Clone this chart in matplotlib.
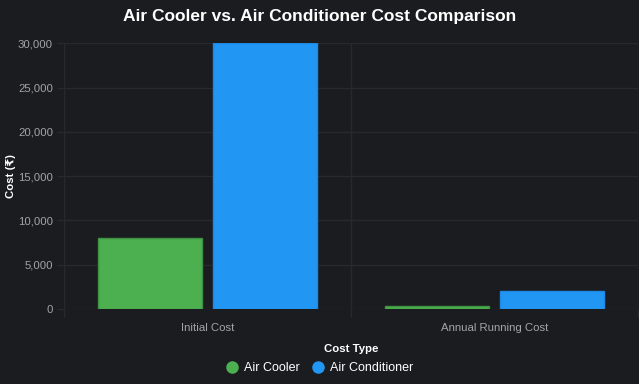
import matplotlib
matplotlib.use("Agg")
import matplotlib.pyplot as plt
from matplotlib.ticker import FuncFormatter, FixedLocator
from matplotlib.lines import Line2D

categories = ["Initial Cost", "Annual Running Cost"]
series_names = ["Air Cooler", "Air Conditioner"]
air_cooler = [8000, 300]
air_conditioner = [30000, 2000]
y_ticks = [0, 5000, 10000, 15000, 20000, 25000, 30000]

plt.rcParams['font.family'] = ['Liberation Sans', 'DejaVu Sans']

bg = '#1b1c20'
grid_c = '#28292e'
tick_c = '#a3a3a8'
green = '#4caf50'
green_edge = '#3f9142'
blue = '#2196f3'
blue_edge = '#1e88e5'

fig = plt.figure(figsize=(6.39, 3.84), dpi=100, facecolor=bg)
ax = fig.add_axes([64/639, (384-309)/384, (638-64)/639, (309-43.3)/384])
ax.set_facecolor(bg)

x = list(range(len(categories)))
w = 0.36
ax.bar([i - 0.2 for i in x], air_cooler, width=w, color=green, edgecolor=green_edge, linewidth=1, zorder=3)
ax.bar([i + 0.2 for i in x], air_conditioner, width=w, color=blue, edgecolor=blue_edge, linewidth=1, zorder=3)

ax.set_xlim(-0.5, len(categories) - 0.5)
ax.set_ylim(0, 30000)
ax.yaxis.set_major_locator(FixedLocator(y_ticks))
ax.yaxis.set_major_formatter(FuncFormatter(lambda v, p: f"{int(v):,}"))
ax.set_xticks(x)
ax.set_xticklabels(categories)
ax.set_xticks([i - 0.5 for i in range(len(categories) + 1)], minor=True)

ax.grid(axis='y', which='major', color=grid_c, linewidth=1, zorder=0)
ax.grid(axis='x', which='minor', color=grid_c, linewidth=1, zorder=0)
ax.tick_params(axis='y', colors=grid_c, labelcolor=tick_c, length=5, width=1, labelsize=8.2, pad=3)
ax.tick_params(axis='x', which='major', length=0, labelcolor=tick_c, labelsize=8.2, pad=10)
ax.tick_params(axis='x', which='minor', length=6, width=1, colors=grid_c)
for s in ax.spines.values():
    s.set_visible(False)

ax.set_xlabel("Cost Type", color='white', fontsize=8.2, fontweight='bold', labelpad=8)
ax.set_ylabel("Cost (₹)", color='white', fontsize=8.2, fontweight='bold')
ax.yaxis.set_label_coords((16 - 64) / 574, 0.5)

fig.text(0.5, 1 - 17/384, "Air Cooler vs. Air Conditioner Cost Comparison", ha='center', va='center',
         color='white', fontsize=12.5, fontweight='bold')

handles = [Line2D([], [], marker='o', linestyle='', markersize=8, markerfacecolor=green, markeredgecolor=green),
           Line2D([], [], marker='o', linestyle='', markersize=8, markerfacecolor=blue, markeredgecolor=blue)]
leg = fig.legend(handles, series_names, loc='center', bbox_to_anchor=(0.5, 1 - 368/384), ncol=2,
                 frameon=False, fontsize=9, labelcolor='white', handletextpad=0.5, columnspacing=0.9,
                 handlelength=1.0)

fig.savefig("out.png", dpi=100, facecolor=bg)
